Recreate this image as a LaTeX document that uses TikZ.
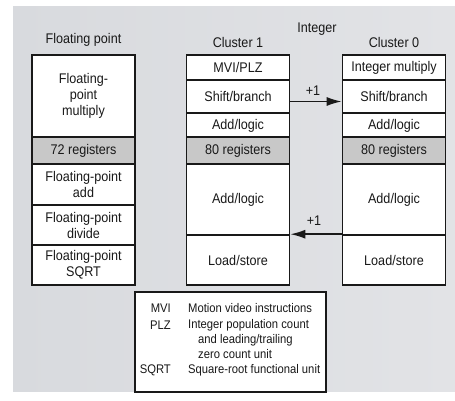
\documentclass[tikz,border=0pt]{standalone}
\usepackage{fontspec}
\setmainfont{Liberation Sans}[FakeStretch=0.9]
\usetikzlibrary{arrows.meta}

\definecolor{ink}{RGB}{25,25,25}
\definecolor{regfill}{RGB}{200,200,200}
\definecolor{bgleft}{RGB}{216,218,222}
\definecolor{bgmid}{RGB}{244,245,247}
\definecolor{bgright}{RGB}{226,227,230}

\begin{document}
\begin{tikzpicture}[x=1pt,y=-1pt,
  cell/.style={draw=ink, line width=1.6pt, fill=white, minimum width=103pt,
    inner sep=0pt, align=center, text=ink, font=\fontsize{14}{16}\selectfont},
  reg/.style={cell, fill=regfill},
  title/.style={text=ink, font=\fontsize{14}{16}\selectfont},
  leg/.style={text=ink, inner sep=0pt, font=\fontsize{12.5}{14}\selectfont},
  link/.style={draw=ink, line width=1.6pt, -{Latex[length=15pt,width=9pt]}},
]
\useasboundingbox (0,0) rectangle (455,401);
\fill[white] (0,0) rectangle (455,401);
\shade[left color=bgleft, middle color=bgmid, right color=bgright] (13,7) rectangle (455,391);

% column titles
\node[title] (tfp)  at (83.5,40) {Floating point};
\node[title] (tc1)  at (238,42)  {Cluster 1};
\node[title] (tc0)  at (394,42)  {Cluster 0};
\node[title] (tint) at (317,29)  {Integer};

% floating-point unit
\node[cell, minimum height=82pt] (fpmul) at (83.5,96)    {Floating-\\point\\multiply};
\node[reg,  minimum height=27pt] (fpreg) at (83.5,150.5) {72 registers};
\node[cell, minimum height=41pt] (fpadd) at (83.5,184.5) {Floating-point\\add};
\node[cell, minimum height=40pt] (fpdiv) at (83.5,225)   {Floating-point\\divide};
\node[cell, minimum height=40pt] (fpsqr) at (83.5,265)   {Floating-point\\SQRT};

% integer cluster 1
\node[cell, minimum height=25pt] (c1top)   at (238,67.5)  {MVI/PLZ};
\node[cell, minimum height=33pt] (c1shift) at (238,96.5)  {Shift/branch};
\node[cell, minimum height=25pt] (c1add)   at (238,125.5) {Add/logic};
\node[reg,  minimum height=27pt] (c1reg)   at (238,150.5) {80 registers};
\node[cell, minimum height=71pt] (c1alu)   at (238,199.5) {Add/logic};
\node[cell, minimum height=50pt] (c1load)  at (238,260)   {Load/store};

% integer cluster 0
\node[cell, minimum height=25pt] (c0top)   at (394,67.5)  {Integer multiply};
\node[cell, minimum height=33pt] (c0shift) at (394,96.5)  {Shift/branch};
\node[cell, minimum height=25pt] (c0add)   at (394,125.5) {Add/logic};
\node[reg,  minimum height=27pt] (c0reg)   at (394,150.5) {80 registers};
\node[cell, minimum height=71pt] (c0alu)   at (394,199.5) {Add/logic};
\node[cell, minimum height=50pt] (c0load)  at (394,260)   {Load/store};

% one-cycle forwarding paths between the clusters
\coordinate (fwdy) at (0,101.5);
\draw[link] (c1shift.east |- fwdy) -- (c0shift.west |- fwdy);
\draw[link] (c0load.north west) -- (c1load.north east);
\node[title] (lat1) at (313,91)  {+1};
\node[title] (lat0) at (314,221) {+1};

% legend
\node[draw=ink, line width=1.6pt, fill=white, minimum width=191pt, minimum height=100pt]
  (legend) at (230.5,342) {};
\node[leg, anchor=east] (kmvi)  at (171,308) {MVI};
\node[leg, anchor=east] (kplz)  at (171,325) {PLZ};
\node[leg, anchor=east] (ksqrt) at (171,370) {SQRT};
\node[leg, anchor=west] (dmvi)  at (188,308) {Motion video instructions};
\node[leg, anchor=west] (dplz)  at (188,325) {Integer population count};
\node[leg, anchor=west] (dplz2) at (198,340) {and leading/trailing};
\node[leg, anchor=west] (dplz3) at (198,354) {zero count unit};
\node[leg, anchor=west] (dsqrt) at (188,370) {Square-root functional unit};
\end{tikzpicture}
\end{document}
